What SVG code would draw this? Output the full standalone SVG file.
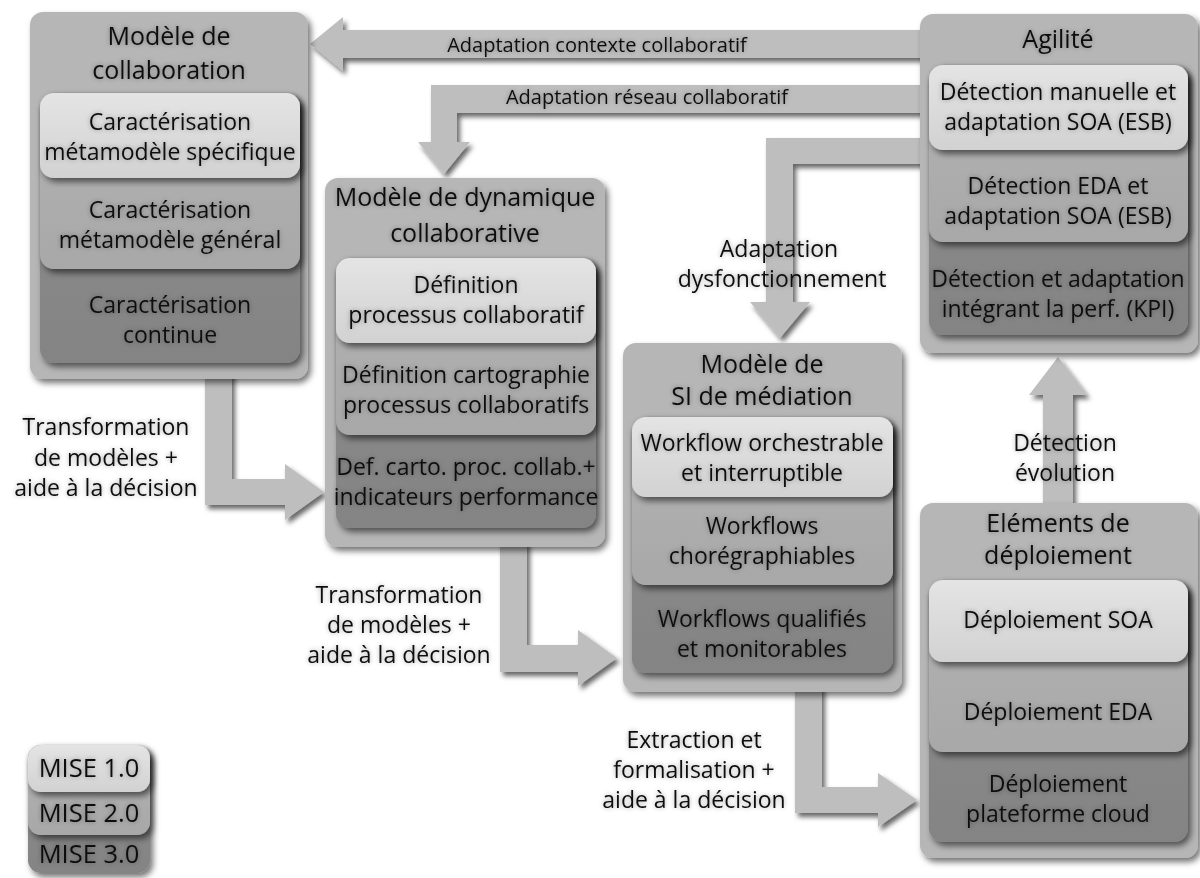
<svg xmlns="http://www.w3.org/2000/svg" width="1200" height="878" viewBox="0 0 1200 878">
<defs>
  <filter id="sh" x="-10%" y="-10%" width="130%" height="130%">
    <feDropShadow dx="3" dy="4" stdDeviation="3" flood-color="#000" flood-opacity="0.55"/>
  </filter>
  <filter id="ash" x="-10%" y="-10%" width="130%" height="130%">
    <feDropShadow dx="3" dy="4" stdDeviation="2.5" flood-color="#000" flood-opacity="0.6"/>
  </filter>
  <filter id="glow" x="-10%" y="-30%" width="120%" height="160%">
    <feGaussianBlur in="SourceAlpha" stdDeviation="2.5" result="b"/>
    <feComponentTransfer in="b" result="c"><feFuncA type="linear" slope="0.35"/></feComponentTransfer>
    <feMerge><feMergeNode in="c"/><feMergeNode in="SourceGraphic"/></feMerge>
  </filter>
  <linearGradient id="gL" x1="0" y1="0" x2="0" y2="1">
    <stop offset="0" stop-color="#e4e4e4"/><stop offset="1" stop-color="#d2d2d2"/>
  </linearGradient>
  <linearGradient id="gM" x1="0" y1="0" x2="0" y2="1">
    <stop offset="0" stop-color="#b4b4b4"/><stop offset="1" stop-color="#a8a8a8"/>
  </linearGradient>
  <linearGradient id="gD" x1="0" y1="0" x2="0" y2="1">
    <stop offset="0" stop-color="#8e8e8e"/><stop offset="1" stop-color="#848484"/>
  </linearGradient>
</defs>
<style>
  text { font-family: "Open Sans", "Lato", "Liberation Sans", sans-serif; fill: #111; text-anchor: middle; }
  .t { font-size: 25px; filter: url(#glow); }
  .i { font-size: 23px; filter: url(#glow); }
  .l { font-size: 23px; filter: url(#glow); }
  .s { font-size: 20px; filter: url(#glow); }
  .g { font-size: 25.5px; filter: url(#glow); }
  .outer { fill: #b6b6b6; filter: url(#sh); }
  .lt { fill: url(#gL); filter: url(#sh); }
  .md { fill: url(#gM); filter: url(#sh); }
  .dk { fill: url(#gD); filter: url(#sh); }
  .arrow { fill: #bebebe; filter: url(#ash); }
</style>
<rect width="1200" height="878" fill="#fff"/>

<g id="connectors">
  <path class="arrow" d="M925,30 L343,30 L343,17 L310,44 L343,71 L343,58 L925,58 Z"/>
  <path class="arrow" d="M925,85 L431,85 L431,142 L418,142 L444,174 L470,142 L457,142 L457,113 L925,113 Z"/>
  <path class="arrow" d="M925,138 L766,138 L766,302 L750,302 L780,338 L810,302 L793,302 L793,164 L925,164 Z"/>
  <path class="arrow" d="M1043,510 L1043,395 L1029,395 L1058,357 L1087,395 L1073,395 L1073,510 Z"/>
  <path class="arrow" d="M205,370 L205,505 L285,505 L285,520 L324,492 L285,464 L285,479 L232,479 L232,370 Z"/>
  <path class="arrow" d="M500,540 L500,672 L578,672 L578,686 L617,658 L578,630 L578,645 L527,645 L527,540 Z"/>
  <path class="arrow" d="M795,685 L795,813 L878,813 L878,827 L917,800 L878,773 L878,787 L822,787 L822,685 Z"/>
  <text class="s" x="597" y="52">Adaptation contexte collaboratif</text>
  <text class="s" x="647" y="104">Adaptation réseau collaboratif</text>
  <text class="l" x="779" y="257">Adaptation</text>
  <text class="l" x="782" y="287">dysfonctionnement</text>
  <text class="l" x="1065" y="451">Détection</text>
  <text class="l" x="1065" y="481">évolution</text>
  <text class="l" x="106" y="435">Transformation</text>
  <text class="l" x="106" y="466">de modèles +</text>
  <text class="l" x="106" y="496">aide à la décision</text>
  <text class="l" x="399" y="603">Transformation</text>
  <text class="l" x="399" y="633">de modèles +</text>
  <text class="l" x="399" y="663">aide à la décision</text>
  <text class="l" x="694" y="748">Extraction et</text>
  <text class="l" x="694" y="778">formalisation +</text>
  <text class="l" x="694" y="808">aide à la décision</text>
</g>

<g id="modele-collaboration">
  <rect class="outer" x="30" y="12" width="278" height="367" rx="13"/>
  <rect class="dk" x="40" y="93" width="260" height="270" rx="14"/>
  <rect class="md" x="40" y="93" width="260" height="176" rx="14"/>
  <rect class="lt" x="40" y="93" width="260" height="85" rx="14"/>
  <text class="t" x="169" y="45">Modèle de</text>
  <text class="t" x="169" y="79">collaboration</text>
  <text class="i" x="170" y="130">Caractérisation</text>
  <text class="i" x="170" y="160">métamodèle spécifique</text>
  <text class="i" x="170" y="218">Caractérisation</text>
  <text class="i" x="170" y="248">métamodèle général</text>
  <text class="i" x="170" y="313">Caractérisation</text>
  <text class="i" x="170" y="343">continue</text>
</g>

<g id="modele-dynamique">
  <rect class="outer" x="325" y="178" width="280" height="369" rx="13"/>
  <rect class="dk" x="336" y="258" width="260" height="270" rx="14"/>
  <rect class="md" x="336" y="258" width="260" height="177" rx="14"/>
  <rect class="lt" x="336" y="258" width="260" height="85" rx="14"/>
  <text class="t" x="465" y="206">Modèle de dynamique</text>
  <text class="t" x="465" y="242">collaborative</text>
  <text class="i" x="466" y="293">Définition</text>
  <text class="i" x="466" y="323">processus collaboratif</text>
  <text class="i" x="466" y="383">Définition cartographie</text>
  <text class="i" x="466" y="413">processus collaboratifs</text>
  <text class="i" x="466" y="475">Def. carto. proc. collab.+</text>
  <text class="i" x="466" y="505">indicateurs performance</text>
</g>

<g id="modele-si-mediation">
  <rect class="outer" x="623" y="343" width="279" height="349" rx="13"/>
  <rect class="dk" x="632" y="417" width="261" height="256" rx="14"/>
  <rect class="md" x="632" y="417" width="261" height="168" rx="14"/>
  <rect class="lt" x="632" y="417" width="261" height="80" rx="14"/>
  <text class="t" x="762" y="373">Modèle de</text>
  <text class="t" x="762" y="405">SI de médiation</text>
  <text class="i" x="762" y="451">Workflow orchestrable</text>
  <text class="i" x="762" y="481">et interruptible</text>
  <text class="i" x="762" y="534">Workflows</text>
  <text class="i" x="762" y="564">chorégraphiables</text>
  <text class="i" x="762" y="627">Workflows qualifiés</text>
  <text class="i" x="762" y="657">et monitorables</text>
</g>

<g id="agilite">
  <rect class="outer" x="920" y="14" width="278" height="339" rx="13"/>
  <rect class="dk" x="929" y="65" width="259" height="270" rx="14"/>
  <rect class="md" x="929" y="65" width="259" height="177" rx="14"/>
  <rect class="lt" x="929" y="65" width="259" height="85" rx="14"/>
  <text class="t" x="1058" y="48">Agilité</text>
  <text class="i" x="1058" y="100">Détection manuelle et</text>
  <text class="i" x="1058" y="130">adaptation SOA (ESB)</text>
  <text class="i" x="1058" y="194">Détection EDA et</text>
  <text class="i" x="1058" y="224">adaptation SOA (ESB)</text>
  <text class="i" x="1058" y="287">Détection et adaptation</text>
  <text class="i" x="1058" y="317">intégrant la perf. (KPI)</text>
</g>

<g id="elements-deploiement">
  <rect class="outer" x="920" y="503" width="278" height="355" rx="13"/>
  <rect class="dk" x="929" y="580" width="259" height="262" rx="14"/>
  <rect class="md" x="929" y="580" width="259" height="172" rx="14"/>
  <rect class="lt" x="929" y="580" width="259" height="82" rx="14"/>
  <text class="t" x="1058" y="532">Eléments de</text>
  <text class="t" x="1058" y="564">déploiement</text>
  <text class="i" x="1058" y="628">Déploiement SOA</text>
  <text class="i" x="1058" y="720">Déploiement EDA</text>
  <text class="i" x="1058" y="792">Déploiement</text>
  <text class="i" x="1058" y="822">plateforme cloud</text>
</g>

<g id="legende">
  <rect class="dk" x="28" y="745" width="122" height="128" rx="13"/>
  <rect class="md" x="28" y="745" width="122" height="90" rx="13"/>
  <rect class="lt" x="28" y="745" width="122" height="47" rx="13"/>
  <text class="g" x="89" y="777">MISE 1.0</text>
  <text class="g" x="89" y="822">MISE 2.0</text>
  <text class="g" x="89" y="863">MISE 3.0</text>
</g>
</svg>
